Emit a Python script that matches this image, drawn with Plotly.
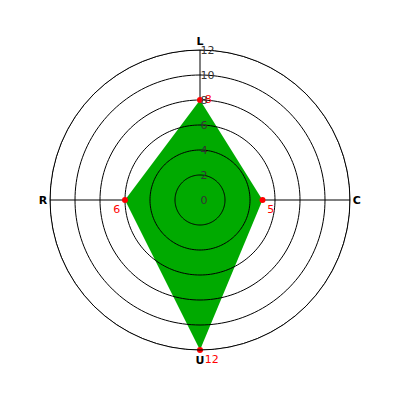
import plotly.graph_objects as go

categories = ["L", "C", "U", "R"]
values = [8, 5, 12, 6]
radial_ticks = [0, 2, 4, 6, 8, 10, 12]

# angular positions for categories (degrees, clockwise from top)
cat_angles = [i * 360 / len(categories) for i in range(len(categories))]

fig = go.Figure()
fig.add_trace(go.Scatterpolar(
    r=values + values[:1], theta=cat_angles + cat_angles[:1],
    mode="none", fill="toself",
    fillcolor="#00aa00", hoverinfo="skip", showlegend=False,
))

# grid circles drawn above the fill, like the reference
circle_theta = list(range(0, 361, 2))
for t in radial_ticks[1:]:
    fig.add_trace(go.Scatterpolar(
        r=[t] * len(circle_theta), theta=circle_theta, mode="lines",
        line=dict(color="black", width=1), hoverinfo="skip", showlegend=False,
    ))

fig.add_trace(go.Scatterpolar(
    r=values, theta=cat_angles, mode="markers+text",
    text=[str(v) for v in values],
    textposition=["middle right", "bottom right", "bottom right", "bottom left"],
    textfont=dict(color="red", size=11, family="DejaVu Sans"),
    marker=dict(color="red", size=6),
    showlegend=False,
))

fig.update_layout(
    width=400, height=400,
    margin=dict(l=42, r=58, t=42, b=58),
    paper_bgcolor="white",
    plot_bgcolor="white",
    polar=dict(
        domain=dict(x=[0, 1], y=[0, 1]),
        bgcolor="white",
        radialaxis=dict(
            range=[0, 12], tickvals=radial_ticks, angle=90, tickangle=90,
            showline=False,
            showgrid=False,
            tickfont=dict(size=11, color="#333333", family="DejaVu Sans"),
            ticks="", side="clockwise", layer="above traces",
        ),
        angularaxis=dict(
            rotation=90, direction="clockwise",
            tickmode="array", tickvals=cat_angles, ticktext=categories,
            showline=True, linecolor="black", linewidth=1,
            gridcolor="black", gridwidth=1,
            tickfont=dict(size=11, color="black", family="DejaVu Sans", weight="bold"),
            ticks="", layer="above traces",
        ),
    ),
)

fig.write_html("out.html")
